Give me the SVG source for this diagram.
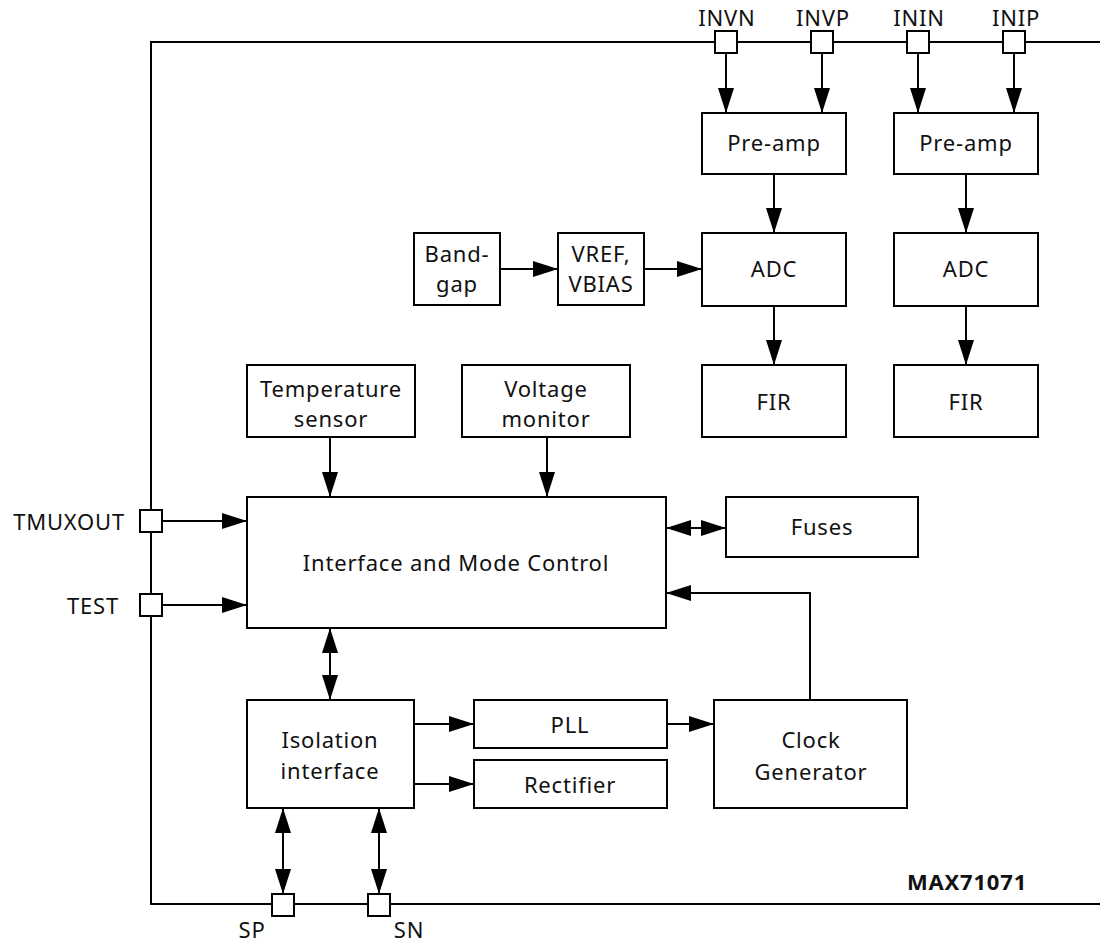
<svg xmlns="http://www.w3.org/2000/svg" width="1100" height="943" viewBox="0 0 1100 943">
<style>
.box{fill:#fff;stroke:#000;stroke-width:2}
.pin{fill:#fff;stroke:#000;stroke-width:2}
.ln{fill:none;stroke:#000;stroke-width:2}
.ar{fill:none;stroke:#000;stroke-width:2;marker-end:url(#ah)}
.da{fill:none;stroke:#000;stroke-width:2;marker-start:url(#ah);marker-end:url(#ah)}
text{font-family:"Noto Sans","Open Sans","Liberation Sans",sans-serif;font-size:22px;letter-spacing:0.8px;fill:#111;text-anchor:middle}
.b{font-weight:bold}
</style>
<defs>
<marker id="ah" markerUnits="userSpaceOnUse" markerWidth="26" markerHeight="17" refX="25" refY="8" orient="auto-start-reverse">
<path d="M0,0 L25,8 L0,16 z" fill="#000"/>
</marker>
</defs>
<g id="frame">
<path class="ln" d="M1100,42 H151 V904 H1100"/>
</g>
<g id="connectors">
<path class="ar" d="M726,53 V113"/>
<path class="ar" d="M822,53 V113"/>
<path class="ar" d="M918,53 V113"/>
<path class="ar" d="M1014,53 V113"/>
<path class="ar" d="M774,174 V233"/>
<path class="ar" d="M966,174 V233"/>
<path class="ar" d="M774,306 V365"/>
<path class="ar" d="M966,306 V365"/>
<path class="ar" d="M500,269 H558"/>
<path class="ar" d="M644,269 H702"/>
<path class="ar" d="M330,437 V497"/>
<path class="ar" d="M547,437 V497"/>
<path class="ar" d="M162,521 H247"/>
<path class="ar" d="M162,605 H247"/>
<path class="da" d="M666,528 H726"/>
<path class="ar" d="M810,700 V593 H666"/>
<path class="da" d="M330,628 V700"/>
<path class="ar" d="M414,724 H474"/>
<path class="ar" d="M414,784 H474"/>
<path class="ar" d="M667,724 H714"/>
<path class="da" d="M283,808 V894"/>
<path class="da" d="M379,808 V894"/>
</g>
<g id="pin-INVN"><rect class="pin" x="715" y="31" width="22" height="22"/><text x="727" y="26">INVN</text></g>
<g id="pin-INVP"><rect class="pin" x="811" y="31" width="22" height="22"/><text x="823" y="26">INVP</text></g>
<g id="pin-ININ"><rect class="pin" x="907" y="31" width="22" height="22"/><text x="919" y="26">ININ</text></g>
<g id="pin-INIP"><rect class="pin" x="1003" y="31" width="22" height="22"/><text x="1016" y="26">INIP</text></g>
<g id="pin-TMUXOUT"><rect class="pin" x="140" y="510" width="22" height="22"/><text x="125" y="530" style="text-anchor:end">TMUXOUT</text></g>
<g id="pin-TEST"><rect class="pin" x="140" y="594" width="22" height="22"/><text x="119" y="614" style="text-anchor:end">TEST</text></g>
<g id="pin-SP"><rect class="pin" x="272" y="894" width="22" height="22"/><text x="252" y="938">SP</text></g>
<g id="pin-SN"><rect class="pin" x="368" y="894" width="22" height="22"/><text x="409" y="938">SN</text></g>
<g id="preamp1"><rect class="box" x="702" y="113" width="144" height="61"/><text x="774" y="151">Pre-amp</text></g>
<g id="preamp2"><rect class="box" x="894" y="113" width="144" height="61"/><text x="966" y="151">Pre-amp</text></g>
<g id="adc1"><rect class="box" x="702" y="233" width="144" height="73"/><text x="774" y="277">ADC</text></g>
<g id="adc2"><rect class="box" x="894" y="233" width="144" height="73"/><text x="966" y="277">ADC</text></g>
<g id="fir1"><rect class="box" x="702" y="365" width="144" height="72"/><text x="774" y="410">FIR</text></g>
<g id="fir2"><rect class="box" x="894" y="365" width="144" height="72"/><text x="966" y="410">FIR</text></g>
<g id="bandgap"><rect class="box" x="414" y="233" width="86" height="72"/><text x="457" y="262">Band-</text><text x="457" y="292">gap</text></g>
<g id="vref"><rect class="box" x="558" y="233" width="86" height="72"/><text x="601" y="262">VREF,</text><text x="601" y="292">VBIAS</text></g>
<g id="tempsensor"><rect class="box" x="247" y="365" width="168" height="72"/><text x="331" y="397">Temperature</text><text x="331" y="427">sensor</text></g>
<g id="voltmon"><rect class="box" x="462" y="365" width="168" height="72"/><text x="546" y="397">Voltage</text><text x="546" y="427">monitor</text></g>
<g id="imc"><rect class="box" x="247" y="497" width="419" height="131"/><text x="456" y="571">Interface and Mode Control</text></g>
<g id="fuses"><rect class="box" x="726" y="497" width="192" height="60"/><text x="822" y="535">Fuses</text></g>
<g id="isolation"><rect class="box" x="247" y="700" width="167" height="108"/><text x="330" y="748">Isolation</text><text x="330" y="779">interface</text></g>
<g id="pll"><rect class="box" x="474" y="700" width="193" height="48"/><text x="570" y="733">PLL</text></g>
<g id="rectifier"><rect class="box" x="474" y="760" width="193" height="48"/><text x="570" y="793">Rectifier</text></g>
<g id="clockgen"><rect class="box" x="714" y="700" width="193" height="108"/><text x="811" y="748">Clock</text><text x="811" y="780">Generator</text></g>
<g id="label"><text class="b" x="967" y="890">MAX71071</text></g>
</svg>
